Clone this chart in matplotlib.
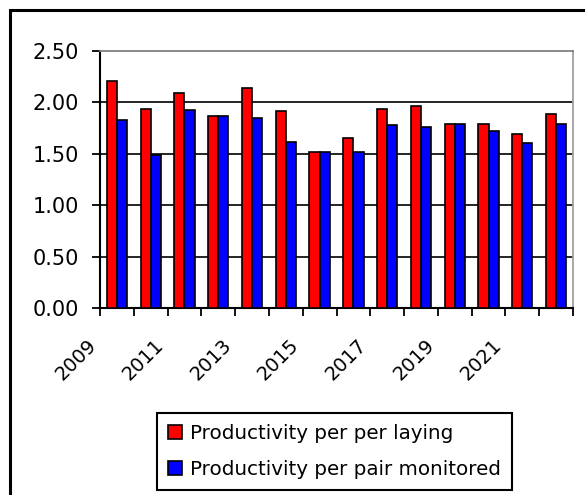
import matplotlib.pyplot as plt
import numpy as np
from matplotlib.patches import Rectangle

plt.rcParams["font.family"] = ["DejaVu Sans"]

years = [2009, 2010, 2011, 2012, 2013, 2014, 2015, 2016, 2017, 2018, 2019, 2020, 2021, 2022]
per_laying = [2.21, 1.94, 2.09, 1.87, 2.14, 1.92, 1.52, 1.65, 1.94, 1.96, 1.79, 1.79, 1.69, 1.89]
per_pair = [1.83, 1.49, 1.93, 1.87, 1.85, 1.61, 1.52, 1.52, 1.78, 1.76, 1.79, 1.72, 1.60, 1.79]
tick_years = [2009, 2011, 2013, 2015, 2017, 2019, 2021]

fig = plt.figure(figsize=(5.85, 4.95), dpi=100)
ax = fig.add_axes([0.171, 0.378, 0.8085, 0.519])

# outer chart frame
fig.patches.append(Rectangle((10 / 585, -0.02), 1.0, 1 - 10 / 495 + 0.02,
                             transform=fig.transFigure, fill=False,
                             edgecolor="black", linewidth=2.2))

x = np.arange(len(years))
w = 0.3
ax.bar(x - w / 2, per_laying, w, color="#FF0000", edgecolor="black", linewidth=1.2,
       label="Productivity per per laying", zorder=3)
ax.bar(x + w / 2, per_pair, w, color="#0000FF", edgecolor="black", linewidth=1.2,
       label="Productivity per pair monitored", zorder=3)

ax.set_xlim(-0.5, len(years) - 0.5)
ax.set_ylim(0, 2.5)
yt = np.arange(0, 2.51, 0.5)
ax.set_yticks(yt)
ax.set_yticklabels([f"{v:.2f}" for v in yt], fontsize=15)

# tick marks sit on category boundaries; every other boundary gets a year
bounds = np.arange(len(years) + 1) - 0.5
ax.set_xticks(bounds)
ax.set_xticklabels([str(years[0] + i) if (years[0] + i) in tick_years else "" for i in range(len(bounds))],
                   rotation=45, ha="right", va="top", fontsize=14)
ax.tick_params(axis="both", direction="out", length=6, width=1.3, color="black")
ax.tick_params(axis="x", pad=14)
ax.tick_params(axis="y", pad=9)

for v in [0.5, 1.0, 1.5, 2.0]:
    ax.axhline(v, color="black", linewidth=1.2, zorder=1)

ax.spines["left"].set_linewidth(1.5)
ax.spines["bottom"].set_linewidth(1.5)
ax.spines["top"].set_color("#808080")
ax.spines["right"].set_color("#A0A0A0")
ax.spines["top"].set_linewidth(1.3)
ax.spines["right"].set_linewidth(1.3)

leg = fig.legend(loc="center", bbox_to_anchor=(0.572, 0.088), fontsize=14.3,
                 frameon=True, fancybox=False, edgecolor="black", framealpha=1,
                 handlelength=0.7, handleheight=0.7, handletextpad=0.4,
                 labelspacing=0.85, borderpad=0.55, borderaxespad=0)
leg.get_frame().set_linewidth(1.5)

fig.savefig("out.png", dpi=100)
